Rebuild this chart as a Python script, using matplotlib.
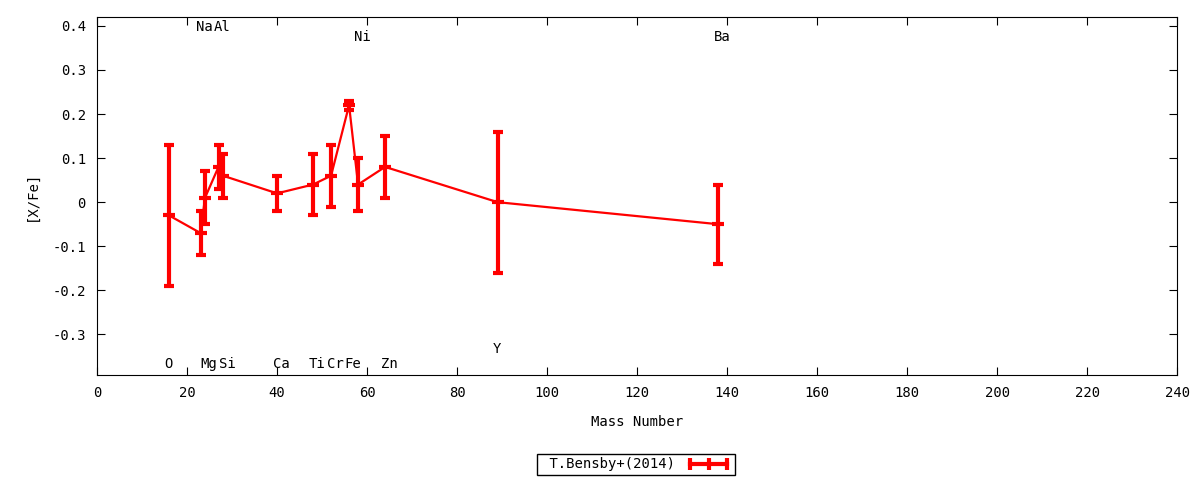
import matplotlib.pyplot as plt
from matplotlib.lines import Line2D

plt.rcParams['font.family'] = ['DejaVu Sans Mono']

# Bensby+(2014) abundances vs mass number
elements = ["O", "Na", "Mg", "Al", "Si", "Ca", "Ti", "Cr", "Fe", "Ni", "Zn", "Y", "Ba"]
mass = [16, 23, 24, 27, 28, 40, 48, 52, 56, 58, 64, 89, 138]
xfe = [-0.03, -0.07, 0.01, 0.08, 0.06, 0.02, 0.04, 0.06, 0.22, 0.04, 0.08, 0.00, -0.05]
err = [0.16, 0.05, 0.06, 0.05, 0.05, 0.04, 0.07, 0.07, 0.01, 0.06, 0.07, 0.16, 0.09]
# label heights as drawn in the chart
label_y = [-0.366, 0.398, -0.366, 0.398, -0.366, -0.366, -0.366, -0.366, -0.366, 0.375, -0.366, -0.334, 0.375]

fig = plt.figure(figsize=(12, 4.8), dpi=100)
ax = fig.add_axes([0.0808, 0.21875, 0.9004, 0.7458])

ax.errorbar(mass, xfe, yerr=err, color='red', lw=1.6, elinewidth=3,
            capsize=3.5, capthick=3)
ax.plot(mass, xfe, ls='none', marker='_', color='red', ms=8, mew=3)

for el, m, ly in zip(elements, mass, label_y):
    ax.text(m - 1, ly, el, fontsize=10, ha='left', va='center')

ax.set_xlim(0, 240)
ax.set_ylim(-0.392, 0.42)
ax.set_xticks(range(0, 241, 20))
ax.set_yticks([-0.3, -0.2, -0.1, 0, 0.1, 0.2, 0.3, 0.4])
ax.set_yticklabels(["-0.3", "-0.2", "-0.1", "0", "0.1", "0.2", "0.3", "0.4"])
ax.tick_params(direction='in', length=6, top=True, right=True, labelsize=10, pad=8)
ax.set_xlabel("Mass Number", fontsize=10, labelpad=11)
ax.set_ylabel("[X/Fe]", fontsize=10, labelpad=10)

handle = Line2D([0], [0], color='red', lw=3, marker='|', ms=9, mew=3)
leg = fig.legend([handle], [" T.Bensby+(2014)"], loc='center', bbox_to_anchor=(0.53, 0.0323),
                 numpoints=3, markerfirst=False, fancybox=False, fontsize=10,
                 handlelength=3.3, borderpad=0.25, handletextpad=0.8,
                 edgecolor='black', framealpha=1)
leg.get_frame().set_linewidth(1)

fig.savefig("out.png", dpi=100)
